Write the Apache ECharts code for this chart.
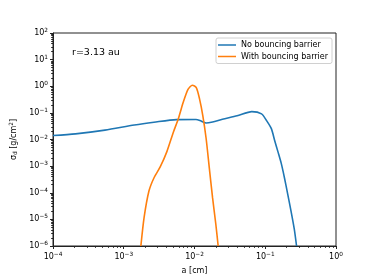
<!DOCTYPE html>
<html>
<head>
<meta charset="utf-8">
<script src="https://cdn.jsdelivr.net/npm/echarts@6/dist/echarts.min.js"></script>
<style>
html,body{margin:0;padding:0;background:#fff;}
#chart{width:374px;height:280px;}
</style>
</head>
<body>
<div id="chart"></div>
<script>
// ---- data ----
const blueA = [1.0e-4, 2.08e-4, 5.42e-4, 1.41e-3, 2.67e-3, 5.55e-3, 1.05e-2, 1.19e-2, 1.46e-2, 1.80e-2, 2.48e-2, 4.00e-2, 6.46e-2, 8.87e-2, 0.104, 0.122, 0.1355, 0.151, 0.168, 0.187, 0.208, 0.231, 0.257, 0.277];
const blueSigma = [0.01406, 0.01626, 0.02249, 0.0350, 0.0445, 0.0560, 0.0565, 0.0519, 0.0416, 0.0456, 0.0574, 0.0774, 0.1117, 0.0918, 0.0519, 0.0255, 9.42e-3, 3.50e-3, 1.29e-3, 3.59e-4, 8.65e-5, 2.10e-5, 4.38e-6, 1.0e-6];
const orangeA = [1.746e-3, 1.94e-3, 2.27e-3, 2.67e-3, 3.30e-3, 4.07e-3, 5.04e-3, 5.91e-3, 6.93e-3, 8.13e-3, 9.33e-3, 1.06e-2, 1.18e-2, 1.31e-2, 1.46e-2, 1.62e-2, 1.80e-2, 2.00e-2, 2.16e-2];
const orangeSigma = [1.0e-6, 1.19e-5, 1.16e-4, 3.59e-4, 9.75e-4, 3.50e-3, 0.0193, 0.060, 0.249, 0.774, 1.089, 0.895, 0.330, 0.0794, 0.0109, 8.43e-4, 6.53e-5, 6.70e-6, 1.0e-6];
const seriesNames = ['No bouncing barrier', 'With bouncing barrier'];
const xMajorTicks = [1e-4, 1e-3, 1e-2, 1e-1, 1e0];
const yMajorTicks = [1e-6, 1e-5, 1e-4, 1e-3, 1e-2, 1e-1, 1e0, 1e1, 1e2];
const annotation = 'r=3.13 au';

function minorTicks(lo, hi) {
  const out = [];
  for (let k = lo; k < hi; k++) {
    for (let m = 2; m <= 9; m++) out.push(m * Math.pow(10, k));
  }
  return out;
}
const xMinorTicks = minorTicks(-4, 0);
const yMinorTicks = minorTicks(-6, 2);

function pair(a, b) { return a.map((v, i) => [v, b[i]]); }

const FONT = 'DejaVu Sans';
function powLabel(v) {
  const e = Math.round(Math.log10(v));
  const s = e < 0 ? '\u2212' + (-e) : String(e);
  return '{b|10}{s|' + s + '}';
}
const richLab = {
  b: { fontSize: 8, fontFamily: FONT, color: '#000' },
  s: { fontSize: 5.8, fontFamily: FONT, color: '#000', padding: [0, 0, 5, 0] }
};

const chart = echarts.init(document.getElementById('chart'), null, { renderer: 'canvas' });
const grid = { left: 47, right: 38, top: 33, bottom: 31, show: true, borderColor: '#222', borderWidth: 1, backgroundColor: 'transparent' };

chart.setOption({
  animation: false,
  backgroundColor: '#fff',
  grid: grid,
  title: {
    text: annotation, left: 67, top: 43,
    textStyle: { fontFamily: FONT, fontSize: 9.5, fontWeight: 'normal', color: '#000' }
  },
  legend: {
    data: seriesNames,
    orient: 'vertical',
    right: 42, top: 38,
    icon: 'rect', itemWidth: 18, itemHeight: 1.5,
    itemGap: 3.5,
    padding: [3, 4, 3, 2],
    backgroundColor: '#fff',
    borderColor: '#d0d0d0', borderWidth: 1, borderRadius: 2,
    textStyle: { fontFamily: FONT, fontSize: 8, color: '#000' }
  },
  xAxis: [
    {
      type: 'log', logBase: 10, min: 1e-4, max: 1, position: 'bottom',
      name: 'a [cm]', nameLocation: 'middle', nameGap: 21,
      nameTextStyle: { fontFamily: FONT, fontSize: 8, color: '#000' },
      axisLine: { show: true, lineStyle: { color: '#222', width: 1 } },
      axisTick: { show: true, length: 3, customValues: xMajorTicks, lineStyle: { color: '#222' } },
      axisLabel: { show: true, margin: 5, customValues: xMajorTicks, formatter: powLabel, rich: richLab },
      splitLine: { show: false }
    },
    {
      type: 'log', logBase: 10, min: 1e-4, max: 1, position: 'bottom',
      axisLine: { show: false },
      axisTick: { show: true, length: 1.8, customValues: xMinorTicks, lineStyle: { color: '#222' } },
      axisLabel: { show: false },
      splitLine: { show: false }
    }
  ],
  yAxis: [
    {
      type: 'log', logBase: 10, min: 1e-6, max: 100, position: 'left',
      name: '\u03c3{sub|d} [g/cm{sup|2}]', nameLocation: 'middle', nameGap: 34, nameRotate: 90,
      nameTextStyle: {
        fontFamily: FONT, fontSize: 8, color: '#000',
        rich: {
          sub: { fontSize: 5.8, fontFamily: FONT, color: '#000', padding: [0, 0, -3, 0] },
          sup: { fontSize: 5.8, fontFamily: FONT, color: '#000', padding: [0, 0, 5, 0] }
        }
      },
      axisLine: { show: true, lineStyle: { color: '#222', width: 1 } },
      axisTick: { show: true, length: 3, customValues: yMajorTicks, lineStyle: { color: '#222' } },
      axisLabel: { show: true, margin: 5, customValues: yMajorTicks, formatter: powLabel, rich: richLab },
      splitLine: { show: false }
    },
    {
      type: 'log', logBase: 10, min: 1e-6, max: 100, position: 'left',
      axisLine: { show: false },
      axisTick: { show: true, length: 1.8, customValues: yMinorTicks, lineStyle: { color: '#222' } },
      axisLabel: { show: false },
      splitLine: { show: false }
    }
  ],
  series: [
    {
      name: seriesNames[0], type: 'line', data: pair(blueA, blueSigma),
      showSymbol: false, smooth: 0.25,
      lineStyle: { color: '#1f77b4', width: 1.6 }, itemStyle: { color: '#1f77b4' },
      clip: true
    },
    {
      name: seriesNames[1], type: 'line', data: pair(orangeA, orangeSigma),
      showSymbol: false, smooth: 0.25,
      lineStyle: { color: '#ff7f0e', width: 1.6 }, itemStyle: { color: '#ff7f0e' },
      clip: true
    }
  ]
});
</script>
</body>
</html>
